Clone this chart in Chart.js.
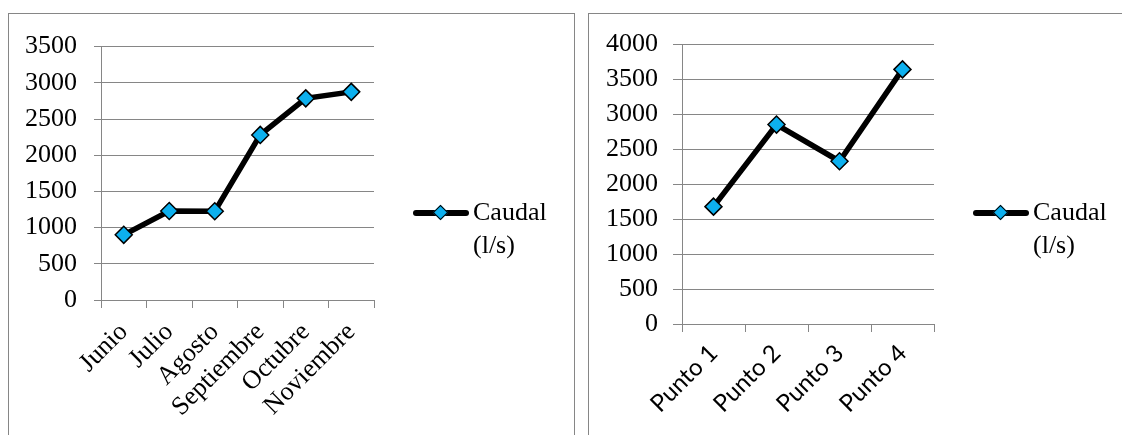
<!DOCTYPE html>
<html>
<head>
<meta charset="utf-8">
<script src="https://cdn.jsdelivr.net/npm/chart.js@4.4.0/dist/chart.umd.min.js"></script>
<style>
  body { margin: 0; background: #fff; overflow: hidden; width: 1122px; height: 435px; position: relative; }
  .box { position: absolute; border: 1px solid #868686; box-sizing: border-box; }
  canvas { position: absolute; }
  .legend { position: absolute; font-family: "Liberation Serif", "Times New Roman", serif; font-size: 26px; line-height: 33px; color: #000; }
  .legend .line { position: absolute; left: 0; top: 15px; width: 56px; height: 6px; background: #000; border-radius: 3px; }
  .legend .mark { position: absolute; left: 22px; top: 12px; width: 9px; height: 9px; background: #0DB0EE; border: 1.5px solid #000; transform: rotate(45deg); }
  .legend .txt { position: absolute; left: 60px; top: 0; white-space: nowrap; }
</style>
</head>
<body>
<div class="box" style="left:8px;top:13px;width:567px;height:450px;"></div>
<div class="box" style="left:588px;top:13px;width:560px;height:450px;"></div>
<canvas id="chartMeses" width="565" height="421" style="left:9px;top:14px;"></canvas>
<canvas id="chartPuntos" width="540" height="421" style="left:589px;top:14px;"></canvas>

<div class="legend" style="left:413px;top:195px;">
  <div class="line"></div><div class="mark"></div>
  <div class="txt">Caudal<br>(l/s)</div>
</div>
<div class="legend" style="left:973px;top:195px;">
  <div class="line"></div><div class="mark"></div>
  <div class="txt">Caudal<br>(l/s)</div>
</div>

<script>
// data
const mesLabels = ["Junio", "Julio", "Agosto", "Septiembre", "Octubre", "Noviembre"];
const caudalMeses = [900, 1230, 1225, 2280, 2785, 2875];

const puntoLabels = ["Punto 1", "Punto 2", "Punto 3", "Punto 4"];
const caudalPuntos = [1680, 2855, 2330, 3645];

const maxMeses = 3500;
const maxPuntos = 4000;
const stepY = 500;

const gridColor = "#868686";
const serif = "'Liberation Serif', 'Times New Roman', serif";
const sans = "Lato, 'Open Sans', sans-serif";

function makeChart(id, labels, values, yMax, opts) {
  const ctx = document.getElementById(id).getContext("2d");
  return new Chart(ctx, {
    type: "line",
    data: {
      labels: labels,
      datasets: [{
        label: "Caudal (l/s)",
        data: values,
        borderColor: "#000",
        borderWidth: 5.5,
        tension: 0,
        pointStyle: "rectRot",
        pointRadius: 8.5,
        pointBackgroundColor: "#0DB0EE",
        pointBorderColor: "#000",
        pointBorderWidth: 1.5
      }]
    },
    options: {
      responsive: false,
      animation: false,
      layout: { padding: { top: 28, right: opts.padRight, left: 0, bottom: 0 } },
      plugins: { legend: { display: false }, tooltip: { enabled: false } },
      scales: {
        x: {
          offset: true,
          grid: { offset: true, drawOnChartArea: false, tickLength: 8, color: gridColor },
          border: { color: gridColor },
          ticks: {
            autoSkip: false,
            minRotation: 45,
            maxRotation: 45,
            padding: opts.xPad,
            color: "#000",
            font: { family: opts.xFont, size: opts.xSize }
          },
          afterFit: (scale) => { scale.height = opts.xHeight; }
        },
        y: {
          min: 0,
          max: yMax,
          ticks: {
            stepSize: stepY,
            padding: opts.yPad,
            color: "#000",
            font: { family: serif, size: 26 },
            callback: (v) => String(v)
          },
          grid: { color: gridColor, tickLength: opts.yTick },
          border: { color: gridColor },
          afterFit: (scale) => { scale.width = opts.yWidth; }
        }
      }
    }
  });
}

makeChart("chartMeses", mesLabels, caudalMeses, maxMeses, {
  padRight: 200, xHeight: 135, yWidth: 92, yPad: 17, yTick: 7,
  xFont: serif, xSize: 26, xPad: 9
});

makeChart("chartPuntos", puntoLabels, caudalPuntos, maxPuntos, {
  padRight: 195, xHeight: 111, yWidth: 93, yPad: 15, yTick: 9,
  xFont: sans, xSize: 24, xPad: 7
});
</script>
</body>
</html>
